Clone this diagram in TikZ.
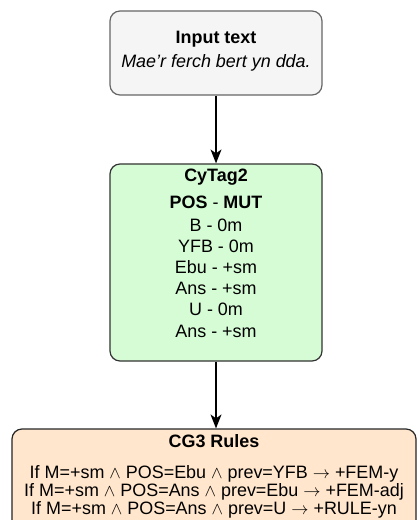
\documentclass[tikz,border=0pt]{standalone}
\usepackage{fontspec}
\setmainfont{Liberation Sans}
\usetikzlibrary{arrows.meta,positioning}

\definecolor{inputfill}{HTML}{F5F5F5}
\definecolor{inputline}{HTML}{666666}
\definecolor{tagfill}{HTML}{D6FCD6}
\definecolor{rulefill}{HTML}{FFE6CC}

\tikzset{
  stage/.style={draw, rounded corners=10bp, line width=1.2bp},
  boxtext/.style={inner sep=0pt, align=center},
  flow/.style={->, line width=1.3bp},
}

\begin{document}
\begin{tikzpicture}[>={Stealth[length=14bp,width=11bp,inset=4bp]}, x=1bp, y=-1bp]

    \useasboundingbox (0,0) rectangle (417,520);

    % the three boxes
    \node[stage, fill=inputfill, draw=inputline, minimum width=212bp, minimum height=84bp] (input) at (216,53) {};
    \node[stage, fill=tagfill, draw=black!80, minimum width=212bp, minimum height=197bp] (tagger) at (216,262.5) {};
    \node[stage, fill=rulefill, draw=black!85, minimum width=404bp, minimum height=110bp] (rules) at (214,484) {};

    % what is written in them
    \node[boxtext, font=\fontsize{18}{24}\selectfont, below=21bp of input.north] (inputtext)
        {\textbf{Input text}\\ \textit{Mae’r ferch bert yn dda.}};
    \node[boxtext, font=\fontsize{18}{21.3}\selectfont, below=5bp of tagger.north] (tagtext)
        {\textbf{CyTag2}\\[6bp]
         \textbf{POS} - \textbf{MUT}\\[1.5bp]
         B - 0m\\ YFB - 0m\\ Ebu - +sm\\ Ans - +sm\\ U - 0m\\ Ans - +sm};
    \node[boxtext, font=\fontsize{18}{18.5}\selectfont, below=6bp of rules.north] (ruletext)
        {\textbf{CG3 Rules}\\[12bp]
         If M=+sm $\wedge$ POS=Ebu $\wedge$ prev=YFB $\rightarrow$ +FEM-y\\
         If M=+sm $\wedge$ POS=Ans $\wedge$ prev=Ebu $\rightarrow$ +FEM-adj\\
         If M=+sm $\wedge$ POS=Ans $\wedge$ prev=U $\rightarrow$ +RULE-yn};

    % pipeline arrows
    \draw[flow] (input) -- (tagger);
    \draw[flow] (tagger) -- (rules.north -| tagger);

\end{tikzpicture}
\end{document}
